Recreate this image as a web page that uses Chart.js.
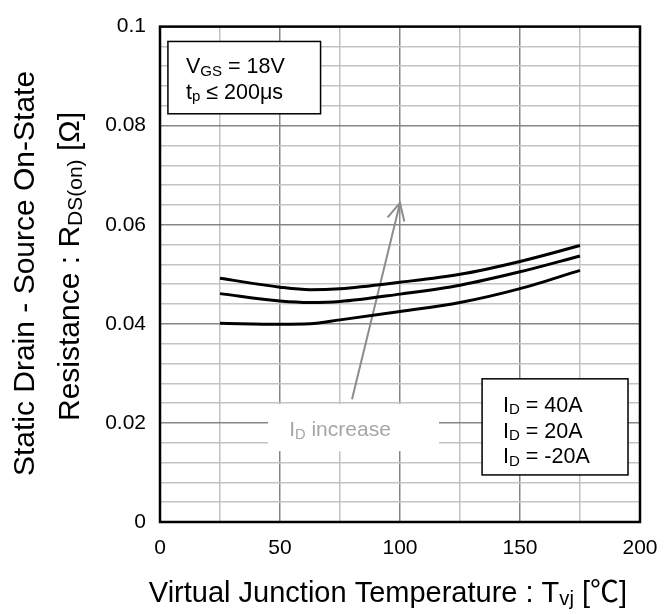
<!DOCTYPE html>
<html>
<head>
<meta charset="utf-8">
<script src="https://cdn.jsdelivr.net/npm/chart.js@4/dist/chart.umd.min.js"></script>
<style>
  body { margin: 0; background: #fff; }
</style>
</head>
<body>
<canvas id="chart" width="672" height="614"></canvas>
<script>
// junction temperature [°C] and on-state resistance [Ω]
const temps = [25, 50, 62.5, 75, 100, 125, 150, 175]
const rds40A = [0.0492, 0.0474, 0.0469, 0.0471, 0.0484, 0.0500, 0.0526, 0.0558]
const rds20A = [0.0461, 0.0446, 0.0443, 0.0445, 0.0460, 0.0478, 0.0505, 0.0537]
const rdsMinus20A = [0.0401, 0.0399, 0.0400, 0.0408, 0.0425, 0.0443, 0.0471, 0.0508]
const currents = ['40A', '20A', '-20A']
const conditions = ['V_{GS} = 18V', 't_{p} ≤ 200μs']

const FONT = "'Liberation Sans', Arial, 'Noto Sans CJK JP', sans-serif"

// "V_{GS}" -> [{t:'V'}, {t:'GS', sub:true}]
function parseRich(str) {
    const parts = []
    const re = /_\{([^}]*)\}/g
    let last = 0, m
    while ((m = re.exec(str))) {
        if (m.index > last) parts.push({ t: str.slice(last, m.index) })
        parts.push({ t: m[1], sub: true })
        last = re.lastIndex
    }
    if (last < str.length) parts.push({ t: str.slice(last) })
    return parts
}

// draws text with subscripts, y is the vertical middle of the capitals
function drawRich(ctx, str, x, y, size, align, color) {
    const parts = parseRich(str)
    const subSize = size * 0.7
    let width = 0
    parts.forEach(p => {
        ctx.font = `${p.sub ? subSize : size}px ${FONT}`
        p.w = ctx.measureText(p.t).width
        width += p.w
    })
    let cx = align === 'center' ? x - width / 2 : x
    const base = y + size * 0.36
    ctx.fillStyle = color || '#000'
    ctx.textAlign = 'left'
    ctx.textBaseline = 'alphabetic'
    parts.forEach(p => {
        ctx.font = `${p.sub ? subSize : size}px ${FONT}`
        ctx.fillText(p.t, cx, p.sub ? base + size * 0.1 : base)
        cx += p.w
    })
}

const annotations = {
    id: 'annotations',
    beforeDraw(chart) {
        const ctx = chart.ctx
        ctx.save()
        ctx.fillStyle = '#fff'
        ctx.fillRect(0, 0, chart.width, chart.height)
        ctx.restore()
    },
    beforeDatasetsDraw(chart) {
        // "I_D increase" arrow
        const { ctx, scales: { x, y } } = chart
        const x0 = x.getPixelForValue(80), y0 = y.getPixelForValue(0.0248)
        const x1 = x.getPixelForValue(100), y1 = y.getPixelForValue(0.0644)
        const ang = Math.atan2(y0 - y1, x0 - x1)
        const len = 19, spread = 27 * Math.PI / 180
        ctx.save()
        ctx.strokeStyle = '#8c8c8c'
        ctx.lineWidth = 2
        ctx.beginPath()
        ctx.moveTo(x0, y0)
        ctx.lineTo(x1, y1)
        ctx.moveTo(x1 + len * Math.cos(ang - spread), y1 + len * Math.sin(ang - spread))
        ctx.lineTo(x1, y1)
        ctx.lineTo(x1 + len * Math.cos(ang + spread), y1 + len * Math.sin(ang + spread))
        ctx.stroke()
        ctx.restore()
    },
    afterDatasetsDraw(chart) {
        const { ctx, chartArea: a, scales: { x, y } } = chart
        ctx.save()

        // label over the grid
        ctx.fillStyle = '#fff'
        const lx = x.getPixelForValue(45), ly = y.getPixelForValue(0.0238)
        ctx.fillRect(lx, ly, x.getPixelForValue(116.25) - lx, y.getPixelForValue(0.0143) - ly)
        drawRich(ctx, 'I_{D} increase', x.getPixelForValue(75), y.getPixelForValue(0.0188), 21, 'center', '#a6a6a6')

        // conditions box
        ctx.lineWidth = 1.5
        ctx.strokeStyle = '#000'
        let bx = x.getPixelForValue(3.3), by = y.getPixelForValue(0.0970)
        ctx.fillStyle = '#fff'
        ctx.fillRect(bx, by, x.getPixelForValue(66.9) - bx, y.getPixelForValue(0.0824) - by)
        ctx.strokeRect(bx, by, x.getPixelForValue(66.9) - bx, y.getPixelForValue(0.0824) - by)
        conditions.forEach((c, i) => {
            drawRich(ctx, c, x.getPixelForValue(10.8), y.getPixelForValue(0.0921 - i * 0.0052), 21.5, 'left')
        })

        // current legend box
        bx = x.getPixelForValue(134.2)
        by = y.getPixelForValue(0.0289)
        ctx.fillStyle = '#fff'
        ctx.fillRect(bx, by, x.getPixelForValue(195) - bx, y.getPixelForValue(0.0095) - by)
        ctx.strokeRect(bx, by, x.getPixelForValue(195) - bx, y.getPixelForValue(0.0095) - by)
        currents.forEach((c, i) => {
            drawRich(ctx, 'I_{D} = ' + c, x.getPixelForValue(142.9), y.getPixelForValue(0.0238 - i * 0.0052), 21.5, 'left')
        })

        // plot frame
        ctx.lineWidth = 2.5
        ctx.strokeRect(a.left, a.top, a.right - a.left, a.bottom - a.top)
        ctx.restore()
    },
    afterDraw(chart) {
        const ctx = chart.ctx
        ctx.save()
        drawRich(ctx, 'Virtual Junction Temperature : T_{vj} [℃]', 388, 592, 29, 'center')
        ctx.translate(23, 273.5)
        ctx.rotate(-Math.PI / 2)
        drawRich(ctx, 'Static Drain - Source On-State', 0, 0, 30, 'center')
        ctx.restore()
        ctx.save()
        ctx.translate(68.5, 266.5)
        ctx.rotate(-Math.PI / 2)
        drawRich(ctx, 'Resistance : R_{DS(on)} [Ω]', 0, 0, 30, 'center')
        ctx.restore()
    }
}

const curve = data => ({
    data: temps.map((t, i) => ({ x: t, y: data[i] })),
    borderColor: '#000',
    borderWidth: 3,
    pointRadius: 0,
    cubicInterpolationMode: 'monotone',
    fill: false
})

const majorX = v => v % 50 === 0
const majorY = v => Math.abs(v * 50 - Math.round(v * 50)) < 1e-6

new Chart(document.getElementById('chart'), {
    type: 'line',
    data: {
        datasets: [curve(rds40A), curve(rds20A), curve(rdsMinus20A)]
    },
    options: {
        responsive: false,
        animation: false,
        devicePixelRatio: 1,
        layout: { padding: { top: 17, right: 32, left: 0, bottom: 0 } },
        plugins: { legend: { display: false }, tooltip: { enabled: false } },
        scales: {
            x: {
                type: 'linear',
                min: 0,
                max: 200,
                afterFit(scale) { scale.height = 92 },
                ticks: {
                    stepSize: 25,
                    padding: 14,
                    color: '#000',
                    font: { family: FONT, size: 21 },
                    maxRotation: 0,
                    autoSkip: false,
                    callback: v => majorX(v) ? String(v) : ''
                },
                grid: {
                    drawTicks: false,
                    lineWidth: 1.5,
                    color: c => majorX(c.tick.value) ? '#868686' : '#c3c3c3'
                },
                border: { display: false }
            },
            y: {
                min: 0,
                max: 0.1,
                afterFit(scale) { scale.width = 160 },
                ticks: {
                    stepSize: 0.004,
                    padding: 14,
                    color: '#000',
                    font: { family: FONT, size: 21 },
                    autoSkip: false,
                    callback: v => majorY(v) ? String(+v.toFixed(2)) : ''
                },
                grid: {
                    drawTicks: false,
                    lineWidth: 1.5,
                    color: c => majorY(c.tick.value) ? '#868686' : '#c3c3c3'
                },
                border: { display: false }
            }
        }
    },
    plugins: [annotations]
})
</script>
</body>
</html>
